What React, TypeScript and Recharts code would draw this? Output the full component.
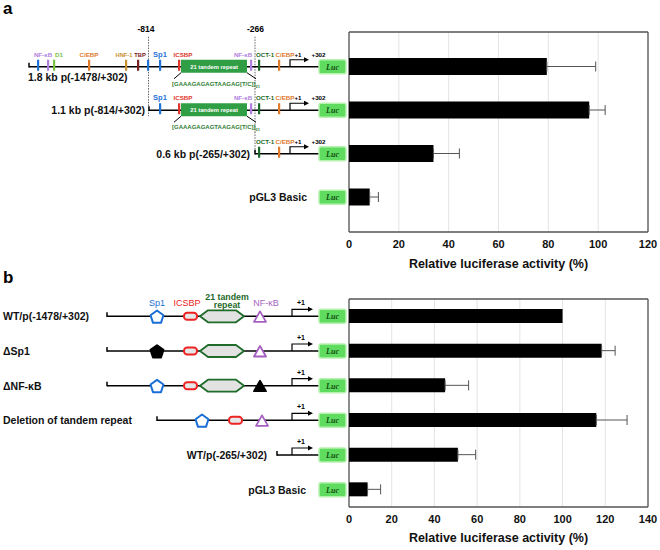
import React from 'react';
import { BarChart, Bar, XAxis, YAxis, CartesianGrid, ErrorBar } from 'recharts';

const FONT = '"Liberation Sans", Arial, Helvetica, sans-serif';

// panel a
const constructsA = ['1.8 kb p(-1478/+302)', '1.1 kb p(-814/+302)', '0.6 kb p(-265/+302)', 'pGL3 Basic'];
const activityA = [79.4, 96.4, 33.9, 8.3];
const errorA = [19.6, 6.4, 10.4, 3.5];
const ticksA = [0, 20, 40, 60, 80, 100, 120];

// panel b
const constructsB = ['WT/p(-1478/+302)', 'ΔSp1', 'ΔNF-κB', 'Deletion of tandem repeat', 'WT/p(-265/+302)', 'pGL3 Basic'];
const activityB = [100, 118.3, 45, 115.8, 51, 8.7];
const errorB = [0, 6.3, 11, 14.4, 8.3, 6.1];
const ticksB = [0, 20, 40, 60, 80, 100, 120, 140];

const dataA = constructsA.map((name, i) => ({ name, value: activityA[i], err: errorA[i] > 0 ? [0, errorA[i]] : null }));
const dataB = constructsB.map((name, i) => ({ name, value: activityB[i], err: errorB[i] > 0 ? [0, errorB[i]] : null }));

const C = {
  nfkb: '#b07fe0',
  sp1: '#1f73d6',
  d1: '#79c043',
  cebp: '#e07a2c',
  hnf: '#c8902e',
  tbp: '#7a2020',
  icsbp: '#e0362c',
  tandem: '#2f9e44',
  oct: '#1c6a2a',
  seq: '#2e7d32',
};

function Luc({ y }: { y: number }) {
  return (
    <g>
      <rect x={319} y={y - 7} width={27} height={14} rx={2} fill="#5fdc5f" stroke="#b8f2b0" strokeWidth={1.5} />
      <text x={332.5} y={y + 3} textAnchor="middle" fontFamily="'Liberation Serif', serif" fontStyle="italic" fontWeight="bold" fontSize={8} fill="#144d14">Luc</text>
    </g>
  );
}

function PromLine({ x1, y }: { x1: number; y: number }) {
  return (
    <g stroke="#000" strokeWidth={1.5} fill="none">
      <line x1={x1} x2={320} y1={y} y2={y} />
      <line x1={x1} x2={x1} y1={y - 4} y2={y + 0.7} />
      <line x1={320} x2={320} y1={y - 4} y2={y + 0.7} />
    </g>
  );
}

function TSS({ y, x = 290, len = 15 }: { y: number; x?: number; len?: number }) {
  return (
    <g>
      <path d={`M ${x} ${y} V ${y - 7} H ${x + len}`} stroke="#000" strokeWidth={1.2} fill="none" />
      <polygon points={`${x + len - 1},${y - 9.5} ${x + len + 4},${y - 7} ${x + len - 1},${y - 4.5}`} fill="#000" />
    </g>
  );
}

function Mk({ x, y, c }: { x: number; y: number; c: string }) {
  return <rect x={x - 1} y={y - 7} width={2.2} height={11} fill={c} />;
}

function Sm({ x, y, c, t, size = 6.2 }: { x: number; y: number; c: string; t: string; size?: number }) {
  return (
    <text x={x} y={y} textAnchor="middle" fontFamily={FONT} fontWeight="bold" fontSize={size} fill={c}>{t}</text>
  );
}

function Label({ x, y, t, anchor }: { x: number; y: number; t: string; anchor: 'start' | 'end' }) {
  return (
    <text x={x} y={y} textAnchor={anchor} fontFamily={FONT} fontWeight="bold" fontSize={10.5} fill="#111">{t}</text>
  );
}

function Dash({ x, y1, y2 }: { x: number; y1: number; y2: number }) {
  return <line x1={x} x2={x} y1={y1} y2={y2} stroke="#666" strokeWidth={1} strokeDasharray="1.5 1.2" />;
}

function Repeat({ y }: { y: number }) {
  return (
    <g>
      <rect x={181} y={y - 7} width={66} height={13} fill={C.tandem} />
      <text x={214} y={y + 2} textAnchor="middle" fontFamily={FONT} fontWeight="bold" fontSize={5.8} fill="#fff">21 tandem repeat</text>
      <line x1={181} y1={y + 6} x2={174} y2={y + 12} stroke="#000" strokeWidth={1} />
      <line x1={247} y1={y + 6} x2={256} y2={y + 12} stroke="#000" strokeWidth={1} />
      <text x={172} y={y + 19} fontFamily={FONT} fontWeight="bold" fontSize={6} fill={C.seq}>
        [GAAAGAGAGTAAGAG[T/C]]<tspan fontSize={4} dy={2}>21</tspan>
      </text>
    </g>
  );
}

function TickA(props: any) {
  const { y, payload } = props;
  const i = constructsA.indexOf(payload.value);
  const common = (
    <g>
      <Mk x={259} y={y} c={C.oct} />
      <Mk x={279} y={y} c={C.cebp} />
      <Sm x={265} y={y - 10} c={C.oct} t="OCT-1" />
      <Sm x={285} y={y - 10} c={C.cebp} t="C/EBP" />
      <Sm x={298} y={y - 10} c="#000" t="+1" />
      <Sm x={318.5} y={y - 10} c="#000" t="+302" />
      <TSS y={y} />
    </g>
  );
  const mid = (
    <g>
      <Mk x={160} y={y} c={C.sp1} />
      <Sm x={160} y={y - 10} c={C.sp1} t="Sp1" size={7.5} />
      <Mk x={179} y={y} c={C.icsbp} />
      <Sm x={183} y={y - 10} c={C.icsbp} t="ICSBP" />
      <Repeat y={y} />
      <Mk x={251} y={y} c={C.nfkb} />
      <Sm x={243} y={y - 10} c={C.nfkb} t="NF-κB" />
    </g>
  );
  if (i === 0) {
    return (
      <g>
        <Dash x={148.5} y1={y - 30} y2={y + 22} />
        <Dash x={255} y1={y - 30} y2={y + 22} />
        <text x={146} y={y - 35} textAnchor="middle" fontFamily={FONT} fontWeight="bold" fontSize={8.5} fill="#000">-814</text>
        <text x={255.5} y={y - 35} textAnchor="middle" fontFamily={FONT} fontWeight="bold" fontSize={8.5} fill="#000">-266</text>
        <PromLine x1={29} y={y} />
        <Mk x={38} y={y} c={C.sp1} />
        <Mk x={48} y={y} c={C.nfkb} />
        <Mk x={54} y={y} c={C.d1} />
        <Sm x={43} y={y - 10} c={C.nfkb} t="NF-κB" />
        <Sm x={59} y={y - 10} c={C.d1} t="D1" />
        <Mk x={89} y={y} c={C.cebp} />
        <Sm x={89} y={y - 10} c={C.cebp} t="C/EBP" />
        <Mk x={126} y={y} c={C.hnf} />
        <Sm x={124} y={y - 10} c={C.hnf} t="HNF-1" size={5.8} />
        <Mk x={138} y={y} c={C.tbp} />
        <Sm x={140} y={y - 10} c={C.tbp} t="TBP" size={5.8} />
        <Mk x={148} y={y} c={C.sp1} />
        {mid}
        {common}
        <Luc y={y} />
        <Label x={28} y={y + 14} t={payload.value} anchor="start" />
      </g>
    );
  }
  if (i === 1) {
    return (
      <g>
        <Dash x={148.5} y1={y - 22} y2={y + 6} />
        <Dash x={255} y1={y - 22} y2={y + 22} />
        <PromLine x1={149} y={y} />
        {mid}
        {common}
        <Luc y={y} />
        <Label x={145} y={y + 4} t={payload.value} anchor="end" />
      </g>
    );
  }
  if (i === 2) {
    return (
      <g>
        <Dash x={255} y1={y - 22} y2={y} />
        <PromLine x1={255} y={y} />
        {common}
        <Luc y={y} />
        <Label x={250} y={y + 4} t={payload.value} anchor="end" />
      </g>
    );
  }
  return (
    <g>
      <Luc y={y} />
      <Label x={307} y={y + 4} t={payload.value} anchor="end" />
    </g>
  );
}

function pentagon(cx: number, cy: number, r: number) {
  const pts: string[] = [];
  for (let k = 0; k < 5; k++) {
    const a = ((-90 + 72 * k) * Math.PI) / 180;
    pts.push(`${cx + r * Math.cos(a)},${cy + r * Math.sin(a)}`);
  }
  return pts.join(' ');
}

function Sp1Shape({ x, y, filled }: { x: number; y: number; filled?: boolean }) {
  return (
    <polygon points={pentagon(x, y + 1, 6.8)} fill={filled ? '#000' : '#fff'} stroke={filled ? '#000' : '#1a6fd6'} strokeWidth={2} strokeLinejoin="round" />
  );
}

function IcsbpShape({ x, y }: { x: number; y: number }) {
  return <rect x={x} y={y - 3.5} width={13} height={7} rx={3.2} fill="#e6e6e6" stroke="#ee2222" strokeWidth={2} />;
}

function TandemShape({ y }: { y: number }) {
  return (
    <polygon
      points={`200,${y} 208,${y - 6} 236,${y - 6} 244,${y} 236,${y + 6} 208,${y + 6}`}
      fill="#e2e2e2"
      stroke="#1e6b2a"
      strokeWidth={1.8}
      strokeLinejoin="round"
    />
  );
}

function NfkbShape({ x, y, filled }: { x: number; y: number; filled?: boolean }) {
  return (
    <polygon
      points={`${x},${y - 5} ${x - 6},${y + 5.5} ${x + 6},${y + 5.5}`}
      fill={filled ? '#000' : '#fff'}
      stroke={filled ? '#000' : '#a55fc0'}
      strokeWidth={1.8}
      strokeLinejoin="round"
    />
  );
}

function TickB(props: any) {
  const { y, payload } = props;
  const i = constructsB.indexOf(payload.value);
  const plus1 = <Sm x={301} y={y - 11} c="#000" t="+1" size={7} />;
  if (i <= 2) {
    return (
      <g>
        <PromLine x1={107} y={y} />
        <TSS y={y} x={292} len={17} />
        <Sp1Shape x={157} y={y} filled={i === 1} />
        <IcsbpShape x={184} y={y} />
        <TandemShape y={y} />
        <NfkbShape x={260} y={y} filled={i === 2} />
        {i === 0 && (
          <g fontFamily={FONT}>
            <text x={157} y={y - 10} textAnchor="middle" fontSize={9} fill="#1a6fd6">Sp1</text>
            <text x={187} y={y - 10} textAnchor="middle" fontSize={9} fill="#ee2222">ICSBP</text>
            <text x={227} y={y - 16.5} textAnchor="middle" fontSize={8.8} fontWeight="bold" fill="#1e6b2a">21 tandem</text>
            <text x={227} y={y - 8} textAnchor="middle" fontSize={8.8} fontWeight="bold" fill="#1e6b2a">repeat</text>
            <text x={266} y={y - 10} textAnchor="middle" fontSize={9} fill="#a55fc0">NF-κB</text>
          </g>
        )}
        {plus1}
        <Luc y={y} />
        <Label x={3} y={y + 4} t={payload.value} anchor="start" />
      </g>
    );
  }
  if (i === 3) {
    return (
      <g>
        <PromLine x1={157} y={y} />
        <TSS y={y} x={292} len={17} />
        <Sp1Shape x={202} y={y} />
        <IcsbpShape x={229} y={y} />
        <NfkbShape x={262} y={y} />
        {plus1}
        <Luc y={y} />
        <Label x={3} y={y + 4} t={payload.value} anchor="start" />
      </g>
    );
  }
  if (i === 4) {
    return (
      <g>
        <PromLine x1={277} y={y} />
        <TSS y={y} x={292} len={17} />
        {plus1}
        <Luc y={y} />
        <Label x={267} y={y + 4} t={payload.value} anchor="end" />
      </g>
    );
  }
  return (
    <g>
      <Luc y={y} />
      <Label x={306} y={y + 4} t={payload.value} anchor="end" />
    </g>
  );
}

const borderH = ({ offset }: any) => [offset.top, offset.top + offset.height];
const borderV = ({ offset }: any) => [offset.left, offset.left + offset.width];

function Panel({ data, ticks, max, tick, height, top, barSize, padding, labelOffset }: any) {
  return (
    <BarChart width={660} height={height} data={data} layout="vertical" margin={{ top, right: 12, bottom: 3, left: 0 }}>
      <CartesianGrid horizontal={false} stroke="#e4e4e4" strokeWidth={1} />
      <CartesianGrid horizontalCoordinatesGenerator={borderH} verticalCoordinatesGenerator={borderV} stroke="#555" strokeWidth={1.3} />
      <XAxis
        type="number"
        domain={[0, max]}
        ticks={ticks}
        tickLine={false}
        axisLine={false}
        height={40}
        tick={{ fontFamily: FONT, fontWeight: 'bold', fontSize: 11, fill: '#111' }}
        label={{ value: 'Relative luciferase activity (%)', position: 'insideBottom', offset: labelOffset, style: { fontFamily: FONT, fontWeight: 'bold', fontSize: 12.5, fill: '#111' } }}
      />
      <YAxis type="category" dataKey="name" width={349} tickLine={false} axisLine={false} interval={0} tick={tick} padding={padding} />
      <Bar dataKey="value" fill="#000" barSize={barSize} isAnimationActive={false}>
        <ErrorBar dataKey="err" direction="x" width={5} stroke="#555" strokeWidth={1} />
      </Bar>
    </BarChart>
  );
}

export default function App() {
  return (
    <div style={{ position: 'absolute', left: 0, top: 0, width: 660, height: 550, background: '#fff', fontFamily: FONT }}>
      <div style={{ position: 'absolute', left: 0, top: 0 }}>
        <Panel data={dataA} ticks={ticksA} max={120} tick={<TickA />} height={275} top={32} barSize={17} padding={{ top: 13, bottom: 13 }} labelOffset={4} />
      </div>
      <div style={{ position: 'absolute', left: 0, top: 275 }}>
        <Panel data={dataB} ticks={ticksB} max={140} tick={<TickB />} height={275} top={24} barSize={14} padding={{ top: 0, bottom: 0 }} labelOffset={5} />
      </div>
      <div style={{ position: 'absolute', left: 3, top: -1, fontSize: 17, fontWeight: 'bold' }}>a</div>
      <div style={{ position: 'absolute', left: 3, top: 268, fontSize: 17, fontWeight: 'bold' }}>b</div>
    </div>
  );
}
